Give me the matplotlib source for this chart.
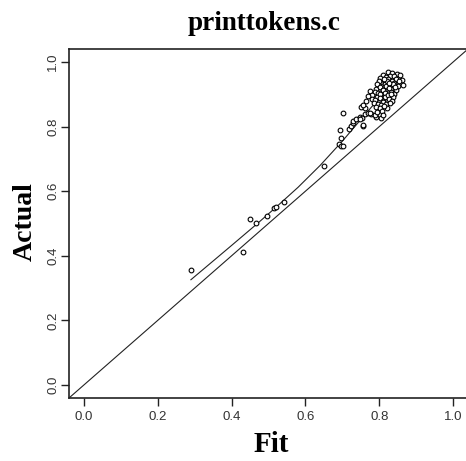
import matplotlib
matplotlib.use("Agg")
import matplotlib.pyplot as plt

# --- data (Fit vs Actual) ---
fit = [0.290, 0.430, 0.451, 0.466, 0.495, 0.515, 0.520, 0.542, 0.651,
       0.692, 0.697, 0.701, 0.697, 0.694, 0.701, 0.719, 0.724, 0.728, 0.728,
       0.737, 0.751, 0.747, 0.754, 0.756, 0.760, 0.765, 0.769, 0.747, 0.756,
       0.790, 0.804, 0.778,
       0.809, 0.824, 0.833, 0.847, 0.856, 0.829,
       0.803, 0.817, 0.824, 0.840, 0.846, 0.861,
       0.799, 0.812, 0.819, 0.834, 0.841, 0.853,
       0.793, 0.808, 0.815, 0.829, 0.836, 0.851, 0.864,
       0.791, 0.801, 0.810, 0.824, 0.832, 0.846,
       0.774, 0.787, 0.796, 0.809, 0.816, 0.831, 0.839,
       0.781, 0.794, 0.802, 0.816, 0.824, 0.838,
       0.769, 0.779, 0.789, 0.801, 0.811, 0.825, 0.833,
       0.786, 0.796, 0.809, 0.819, 0.829, 0.805,
       0.760, 0.756, 0.791, 0.801, 0.820, 0.813,
       0.774, 0.787, 0.806, 0.810, 0.795,
       0.818, 0.826, 0.831, 0.821, 0.842, 0.813, 0.827]
actual = [0.357, 0.413, 0.515, 0.503, 0.523, 0.548, 0.552, 0.566, 0.678,
          0.745, 0.740, 0.740, 0.766, 0.789, 0.841, 0.792, 0.802, 0.810, 0.818,
          0.823, 0.859, 0.831, 0.828, 0.802, 0.839, 0.880, 0.843, 0.822, 0.806,
          0.831, 0.825, 0.839,
          0.961, 0.969, 0.965, 0.964, 0.960, 0.956,
          0.951, 0.953, 0.947, 0.955, 0.946, 0.944,
          0.941, 0.944, 0.936, 0.940, 0.935, 0.941,
          0.932, 0.926, 0.933, 0.925, 0.931, 0.924, 0.929,
          0.917, 0.922, 0.914, 0.921, 0.915, 0.912,
          0.909, 0.907, 0.903, 0.912, 0.904, 0.908, 0.901,
          0.899, 0.893, 0.900, 0.892, 0.898, 0.890,
          0.895, 0.885, 0.883, 0.888, 0.880, 0.886, 0.879,
          0.874, 0.869, 0.876, 0.870, 0.872, 0.866,
          0.858, 0.868, 0.861, 0.857, 0.856, 0.863,
          0.843, 0.837, 0.848, 0.837, 0.846,
          0.926, 0.918, 0.902, 0.940, 0.921, 0.948, 0.935]

# smooth trend through the points
trend_x = [0.29, 0.40, 0.47, 0.52, 0.58, 0.64, 0.70, 0.78, 0.86]
trend_y = [0.326, 0.432, 0.500, 0.550, 0.612, 0.680, 0.755, 0.862, 0.950]

ticks = [0.0, 0.2, 0.4, 0.6, 0.8, 1.0]
tick_labels = ["0.0", "0.2", "0.4", "0.6", "0.8", "1.0"]

# --- figure ---
fig = plt.figure(figsize=(4.66, 4.61), dpi=100, facecolor="white")
ax = fig.add_axes([69 / 466, 63 / 461, 399 / 466, 349 / 461])

lim = (-0.04, 1.04)
ax.set_xlim(lim)
ax.set_ylim(lim)

ax.plot(lim, lim, color="#222222", lw=0.8)          # y = x
ax.plot(trend_x, trend_y, color="#222222", lw=0.8)  # trend
ax.plot(fit, actual, linestyle="none", marker="o", markersize=3.4,
        markerfacecolor="white", markeredgecolor="black", markeredgewidth=0.8)

ax.set_xticks(ticks)
ax.set_xticklabels(tick_labels)
ax.set_yticks(ticks)
ax.set_yticklabels(tick_labels, rotation=90, va="center")
ax.tick_params(direction="out", length=6, width=1.0, color="#222222",
               labelsize=9.5, labelcolor="#333333", pad=3)
ax.tick_params(axis="y", pad=1)
for lab in ax.get_xticklabels() + ax.get_yticklabels():
    lab.set_fontfamily("Liberation Sans")

for side in ["left", "bottom", "top"]:
    ax.spines[side].set_linewidth(1.2)
    ax.spines[side].set_color("#222222")
ax.spines["right"].set_visible(False)

serif = "Liberation Serif"
fig.text(264 / 466, 1 - 24 / 461, "printtokens.c", ha="center", va="center",
         fontsize=19.5, fontweight="bold", family=serif)
fig.text(271 / 466, 1 - 444 / 461, "Fit", ha="center", va="center",
         fontsize=21, fontweight="bold", family=serif)
fig.text(25 / 466, 1 - 222 / 461, "Actual", ha="center", va="center",
         rotation=90, fontsize=20, fontweight="bold", family=serif)

fig.savefig("out.png", dpi=100, facecolor="white")
